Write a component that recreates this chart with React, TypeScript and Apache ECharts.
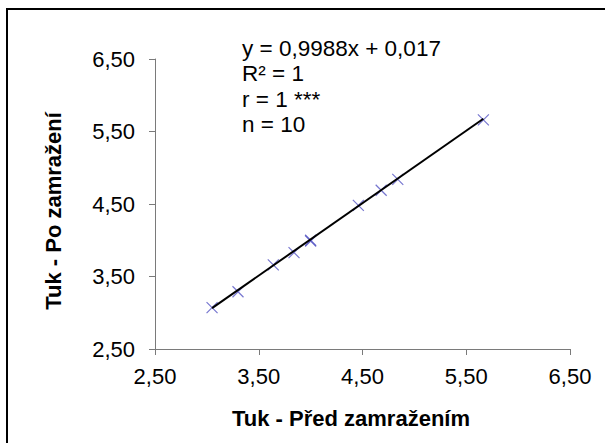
import React, { useEffect, useRef } from "react";
import * as echarts from "echarts";

const xValues = [3.05, 3.3, 3.64, 3.84, 4.0, 4.0, 4.46, 4.68, 4.84, 5.665];
const yValues = [3.07, 3.29, 3.66, 3.83, 4.0, 3.99, 4.48, 4.69, 4.84, 5.66];
const slope = 0.9988;
const intercept = 0.017;
const annotationLines = ["y = 0,9988x + 0,017", "R\u00b2 = 1", "r = 1 ***", "n = 10"];
const xTitle = "Tuk - P\u0159ed zamra\u017een\u00edm";
const yTitle = "Tuk - Po zamra\u017een\u00ed";
const axisMin = 2.5;
const axisMax = 6.5;
const axisStep = 1;

const FONT = '"Liberation Sans", Arial, sans-serif';

export default function App() {
  const ref = useRef<HTMLDivElement>(null);
  useEffect(() => {
    if (!ref.current) return;
    const chart = echarts.init(ref.current, undefined, { renderer: "svg" });
    const points = xValues.map((x, i) => [x, yValues[i]]);
    const xMin = Math.min(...xValues);
    const xMax = Math.max(...xValues);
    const trend = [
      [xMin, slope * xMin + intercept],
      [xMax, slope * xMax + intercept],
    ];
    const fmt = (v: number) => v.toFixed(2).replace(".", ",");
    const axisCommon = {
      type: "value" as const,
      min: axisMin,
      max: axisMax,
      interval: axisStep,
      splitLine: { show: false },
      axisLine: { show: true, lineStyle: { color: "#7a7a7a", width: 1 } },
      axisTick: { show: true, length: 6, lineStyle: { color: "#7a7a7a" } },
      axisLabel: {
        formatter: fmt,
        color: "#000",
        fontSize: 22,
        fontFamily: FONT,
      },
    };
    chart.setOption({
      animation: false,
      backgroundColor: "#fff",
      grid: { left: 155, top: 59, right: 35, bottom: 94, containLabel: false },
      xAxis: { ...axisCommon, axisLabel: { ...axisCommon.axisLabel, margin: 16 } },
      yAxis: { ...axisCommon, axisLabel: { ...axisCommon.axisLabel, margin: 20 } },
      series: [
        {
          type: "scatter",
          data: points,
          symbol: "path://M0,0L10,10M10,0L0,10",
          symbolSize: 11,
          itemStyle: { color: "transparent", borderColor: "#5555c4", borderWidth: 1.2 },
          z: 2,
        },
        {
          type: "line",
          data: trend,
          showSymbol: false,
          symbol: "none",
          lineStyle: { color: "#000", width: 2 },
          z: 3,
        },
      ],
      graphic: [
        {
          type: "rect",
          shape: { x: 7, y: 9, width: 640, height: 480 },
          style: { fill: "none", stroke: "#000", lineWidth: 2 },
          silent: true,
        },
        ...annotationLines.map((t, i) => ({
          type: "text",
          x: 242,
          y: 48 + i * 25.6,
          style: {
            text: t,
            fill: "#000",
            font: `22.5px ${FONT}`,
            textAlign: "left",
            textVerticalAlign: "middle",
          },
        })),
        {
          type: "text",
          x: 351,
          y: 418,
          style: {
            text: xTitle,
            fill: "#000",
            font: `bold 22px ${FONT}`,
            textAlign: "center",
            textVerticalAlign: "middle",
          },
        },
        {
          type: "text",
          x: 53,
          y: 211,
          rotation: Math.PI / 2,
          style: {
            text: yTitle,
            fill: "#000",
            font: `bold 22px ${FONT}`,
            textAlign: "center",
            textVerticalAlign: "middle",
          },
        },
      ],
    });
    return () => chart.dispose();
  }, []);
  return (
    <div
      ref={ref}
      style={{ position: "fixed", left: 0, top: 0, width: 605, height: 443 }}
    />
  );
}
